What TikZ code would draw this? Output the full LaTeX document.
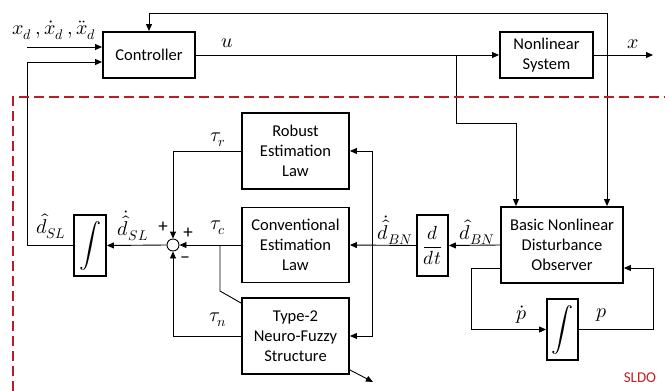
\documentclass[tikz,border=0pt]{standalone}
\usepackage{amsmath}
\usepackage{fontspec}
\usepackage{unicode-math}
\setmainfont{Carlito}
\setmathfont{Latin Modern Math}
\usetikzlibrary{arrows.meta}
\definecolor{dred}{RGB}{185,30,40}
\definecolor{sred}{RGB}{200,30,30}
\tikzset{
  blk/.style={draw, line width=1.9pt, align=center, inner sep=0pt, font=\fontsize{16.5}{20}\selectfont},
  con/.style={line width=0.9pt},
  arr/.style={con, -{Triangle[length=7pt,width=6pt]}},
  lab/.style={inner sep=0pt, font=\fontsize{20}{22}\selectfont},
  sgn/.style={inner sep=0pt, font=\fontsize{19}{21}\selectfont},
}
\begin{document}
\begin{tikzpicture}[x=1pt,y=-1pt]
\useasboundingbox (0,0) rectangle (665,391);
% blocks
\node[blk, minimum width=92pt, minimum height=46pt] (ctrl) at (149,55) {Controller};
\node[blk, minimum width=93pt, minimum height=46pt] (nls) at (546.5,55) {Nonlinear\\System};
\node[blk, minimum width=107pt, minimum height=76pt] (rob) at (295.5,151) {Robust\\Estimation\\Law};
\node[blk, minimum width=107pt, minimum height=75pt] (conv) at (295.5,245) {Conventional\\Estimation\\Law};
\node[blk, minimum width=107pt, minimum height=76pt] (t2) at (295.5,336) {Type-2\\Neuro-Fuzzy\\Structure};
\node[draw, con, circle, minimum size=12pt, inner sep=0pt] (sum) at (173,245) {};
\node[blk, minimum width=32pt, minimum height=61pt, font=\fontsize{22}{24}\selectfont] (int1) at (90,245.5) {$\displaystyle\int$};
\node[blk, minimum width=31pt, minimum height=61pt, font=\fontsize{19}{20}\selectfont] (ddt) at (432.5,245.5) {$\dfrac{d}{dt}$};
\node[blk, minimum width=122pt, minimum height=76pt] (bndo) at (562,245) {Basic Nonlinear\\Disturbance\\Observer};
\node[blk, minimum width=31pt, minimum height=61pt, font=\fontsize{22}{24}\selectfont] (int2) at (562.5,329.5) {$\displaystyle\int$};
% coordinates
\coordinate (xin) at (27,47);
\coordinate (fbx) at (27,62);
\coordinate (xj) at (607,55);
\coordinate (xtop) at (607,13);
\coordinate (xout) at (653,55);
\coordinate (uj) at (456,55);
\coordinate (ub) at (456,123);
\coordinate (vj) at (372,245);
\coordinate (cj) at (220,245);
\coordinate (cb) at (220,291);
\coordinate (lp1) at (471,329.5);
\coordinate (lp2) at (653,329.5);
% connectors
\draw[arr] (xin) -- (ctrl.west |- xin);
\draw[arr] (int1.west) -| (fbx) -- (ctrl.west |- fbx);
\draw[arr] (ctrl.east) -- (nls.west);
\draw[arr] (nls.east) -- (xout);
\draw[arr] (xj) -- (xtop) -| (ctrl.north);
\draw[arr] (xj) -- (bndo.north -| xj);
\draw[arr] (uj) -- (ub) -| ([xshift=-46pt]bndo.north);
\draw[arr] (bndo.west) -- (ddt.east);
\draw[arr] (ddt.west) -- (conv.east);
\draw[arr] (vj) |- (rob.east);
\draw[arr] (vj) |- (t2.east);
\draw[arr] (conv.west) -- (sum.east);
\draw[arr] (rob.west) -| (sum.north);
\draw[arr] (t2.west) -| (sum.south);
\draw[arr] (sum.west) -- (int1.east);
\draw[con] (cj) -- (cb) -- ([yshift=-6pt]t2.north west);
\draw[arr] ([yshift=5pt]t2.south east) -- ++(23,12);
\draw[arr] ([yshift=-23pt]bndo.west) -| (lp1) -- (int2.west);
\draw[arr] (int2.east) -- (lp2) |- ([yshift=-23pt]bndo.east);
% labels
\node[lab] (lxd) at (54,30) {$x_d\,,\dot{x}_d\,,\ddot{x}_d$};
\node[lab] (lu) at (227,43) {$u$};
\node[lab] (lx) at (633,44) {$x$};
\node[lab] (ltr) at (218,140) {$\tau_r$};
\node[lab] (ltc) at (218,228) {$\tau_c$};
\node[lab] (ltn) at (218,320) {$\tau_n$};
\node[sgn] (lp1s) at (163,227) {+};
\node[sgn] (lp2s) at (188,233) {+};
\node[sgn] (lms) at (185,260) {−};
\node[lab] (ldsl) at (51,226) {$\hat{d}_{SL}$};
\node[lab] (lddsl) at (133,226) {$\dot{\hat{d}}_{SL}$};
\node[lab] (ldbn) at (477,232) {$\hat{d}_{BN}$};
\node[lab] (lddbn) at (395,230) {$\dot{\hat{d}}_{BN}$};
\node[lab] (lpd) at (522,315) {$\dot{p}$};
\node[lab] (lp) at (602,315) {$p$};
\draw[draw=dred, line width=1.2pt, dash pattern=on 10pt off 5pt] (13,391) -- (13,97) -- (665,97);
\node[sgn, text=sred, font=\fontsize{15}{17}\selectfont] (sldo) at (640,378) {SLDO};
\end{tikzpicture}
\end{document}
